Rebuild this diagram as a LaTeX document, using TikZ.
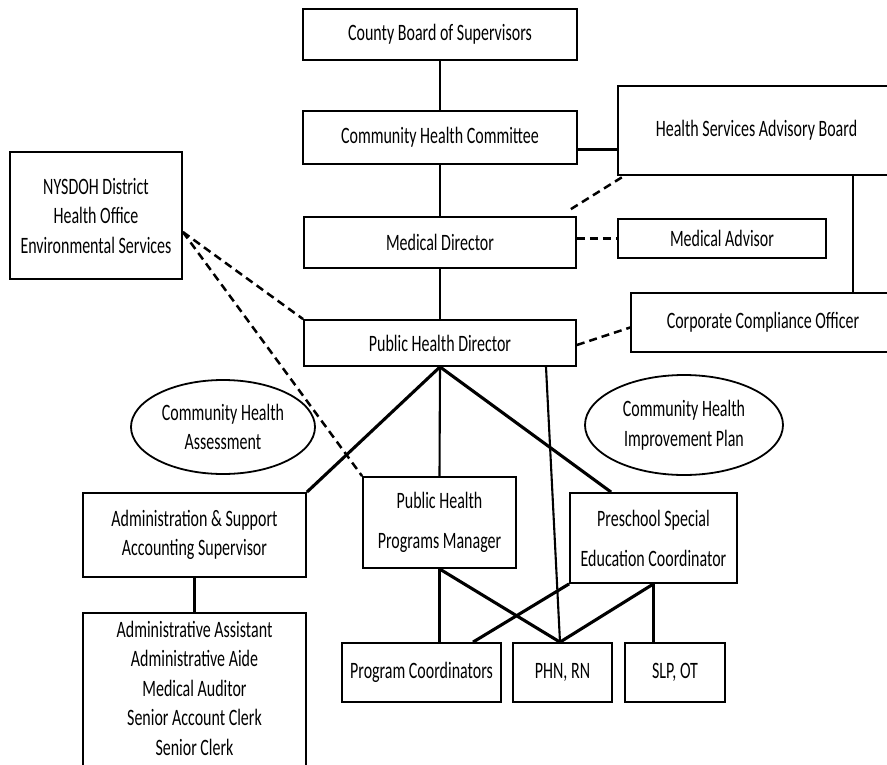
\documentclass[tikz,border=0pt]{standalone}
\usepackage{fontspec}
\setmainfont{Carlito}[FakeStretch=0.68]
\usetikzlibrary{shapes.geometric}

\tikzset{
  box/.style={draw, line width=1.8pt, inner sep=0pt, align=center},
  oval/.style={ellipse, draw, line width=1.8pt, inner sep=0pt, align=center},
  link/.style={line width=2.1pt},
  thicklink/.style={line width=3.1pt},
  dashlink/.style={line width=2.5pt, dash pattern=on 8pt off 5pt},
}

\begin{document}
\begin{tikzpicture}[x=1pt, y=-1pt, every node/.style={font=\fontsize{23.5pt}{29.5pt}\selectfont}]
\useasboundingbox (0,0) rectangle (887,764);
\clip (0,0) rectangle (887,764);
% top of the chart
\node[box, minimum width=274pt, minimum height=51pt] (cbs) at (440,34.5) {County Board of Supervisors};
\node[box, minimum width=274pt, minimum height=53pt] (chc) at (440,137.5) {Community Health Committee};
\node[box, minimum width=277pt, minimum height=89pt] (hsab) at (756.5,130.5) {Health Services Advisory Board};
\node[box, minimum width=172pt, minimum height=127pt] (nysdoh) at (96,215.5) {NYSDOH District\\Health Office\\Environmental Services};
\node[box, minimum width=272pt, minimum height=51pt] (md) at (440,242.5) {Medical Director};
\node[box, minimum width=208pt, minimum height=39pt] (ma) at (722,238.5) {Medical Advisor};
\node[box, minimum width=264pt, minimum height=59pt] (cco) at (763,322.5) {Corporate Compliance Officer};
\node[box, minimum width=272pt, minimum height=46pt] (phd) at (440,343) {Public Health Director};
% the two plans
\node[oval, minimum width=184pt, minimum height=94pt] (cha) at (223,427) {Community Health\\Assessment};
\node[oval, minimum width=198pt, minimum height=100pt] (chip) at (684,425) {Community Health\\Improvement Plan};
% divisions
\node[box, minimum width=223pt, minimum height=84pt] (admin) at (194.5,535) {Administration \& Support\\Accounting Supervisor};
\node[box, minimum width=223pt, text height=142.4pt, text depth=33pt, anchor=north] (staff) at (194.5,612) {Administrative Assistant\\Administrative Aide\\Medical Auditor\\Senior Account Clerk\\Senior Clerk};
\node[box, minimum width=153pt, minimum height=91pt] (phpm) at (439.5,522.5) {Public Health\\[10.5pt]Programs Manager};
\node[box, minimum width=167pt, minimum height=90pt] (pse) at (653.5,538) {Preschool Special\\[10.5pt]Education Coordinator};
% bottom row
\node[box, minimum width=159pt, minimum height=59pt] (pc) at (421.5,672.5) {Program Coordinators};
\node[box, minimum width=99pt, minimum height=59pt] (phn) at (562.5,672.5) {PHN, RN};
\node[box, minimum width=100pt, minimum height=59pt] (slp) at (675,672.5) {SLP, OT};
% solid lines
\draw[link] (cbs) -- (chc);
\draw[link] (chc) -- (md);
\draw[link] (md) -- (phd);
\draw[thicklink] (chc.-5.6) -- (chc.-5.6 -| hsab.west);
\draw[link] ([xshift=96.5pt]hsab.south) -- ([xshift=96.5pt]hsab.south |- cco.north);
\draw[thicklink] (phd.south) -- (admin.north east);
\draw[link] (phd.south) -- (phpm.north);
\draw[thicklink] (phd.south) -- ([xshift=42pt]pse.north west);
\draw[link] ([xshift=106pt]phd.south) -- ([xshift=-2.5pt]phn.north);
\draw[link] (admin) -- (staff);
\draw[link] (phpm.south) -- (phpm.south |- pc.north);
\draw[thicklink] (phpm.south) -- ([xshift=-2.5pt]phn.north);
\draw[thicklink] (pse.south west) -- ([xshift=51.5pt]pc.north);
\draw[thicklink] (pse.south) -- ([xshift=-2.5pt]phn.north);
\draw[link] (pse.south) -- (pse.south |- slp.north);
% dashed lines
\draw[dashlink] ([yshift=-16.5pt]nysdoh.east) -- (phd.north west);
\draw[dashlink] ([yshift=-16.5pt]nysdoh.east) -- (phpm.north west);
\draw[dashlink] ([xshift=-6pt, yshift=7pt]md.north east) -- ([xshift=7pt]hsab.south west);
\draw[dashlink] (ma.west -| md.east) -- (ma.west);
\draw[dashlink] ([yshift=-2pt]phd.east) -- ([yshift=-5pt]cco.west);
\end{tikzpicture}
\end{document}
